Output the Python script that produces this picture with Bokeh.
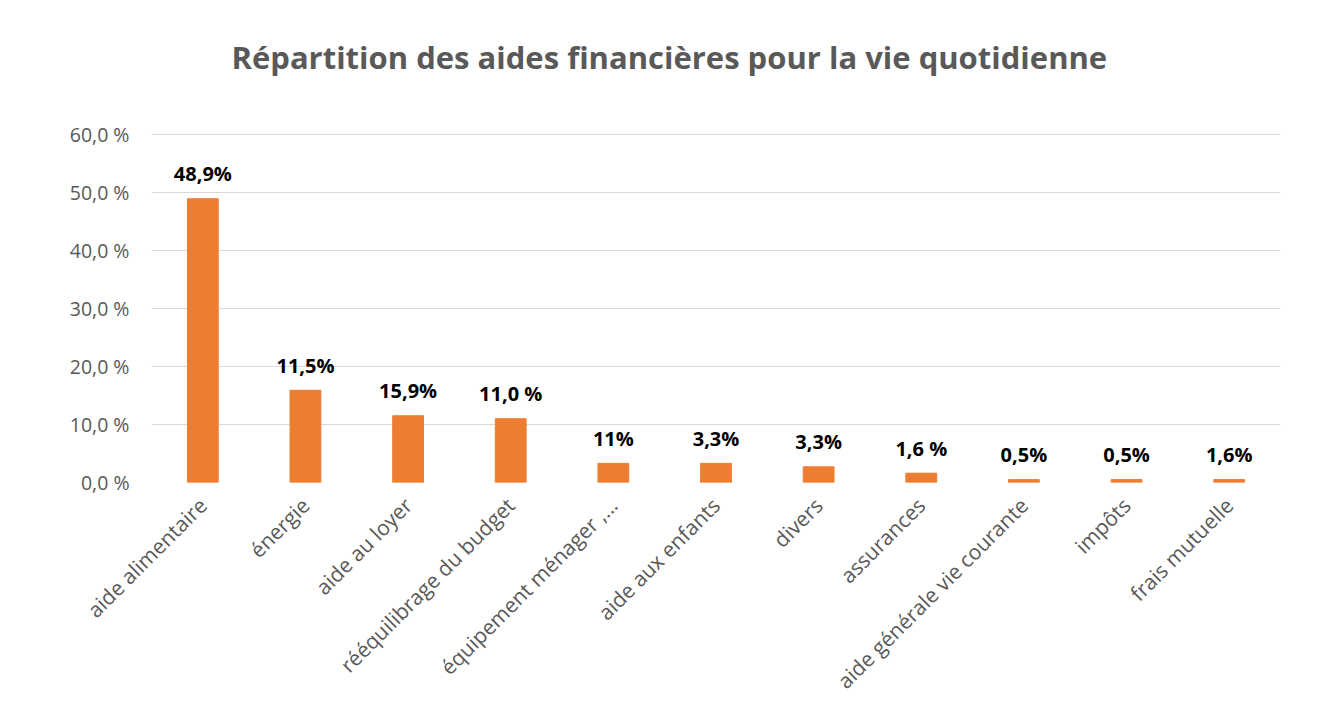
from bokeh.plotting import figure
from bokeh.models import ColumnDataSource, FixedTicker, Range1d, Title
from bokeh.core.properties import value
from bokeh.embed import file_html
from bokeh.resources import INLINE

categories = ["aide alimentaire", "énergie", "aide au loyer", "rééquilibrage du budget",
              "équipement ménager ,…", "aide aux enfants", "divers", "assurances",
              "aide générale vie courante", "impôts", "frais mutuelle"]
values = [48.9, 15.9, 11.5, 11.0, 3.3, 3.3, 2.7, 1.6, 0.5, 0.5, 0.5]
data_labels = ["48,9%", "11,5%", "15,9%", "11,0 %", "11%", "3,3%", "3,3%", "1,6 %", "0,5%", "0,5%", "1,6%"]
y_ticks = [0, 10, 20, 30, 40, 50, 60]
y_tick_labels = ["0,0 %", "10,0 %", "20,0 %", "30,0 %", "40,0 %", "50,0 %", "60,0 %"]

FONT = "Open Sans"
GRAY = "#595959"

src = ColumnDataSource(dict(cat=categories, val=values, lab=data_labels))

p = figure(x_range=categories, y_range=Range1d(0, 60.15),
           frame_width=1129, frame_height=349,
           output_backend="svg", toolbar_location=None,
           min_border_left=151, min_border_right=34, min_border_top=133, min_border_bottom=60)
p.outline_line_color = None
p.background_fill_color = "white"
p.border_fill_color = "white"

p.vbar(x="cat", top="val", width=0.3, source=src, color="#ED7D31", line_color="#ED7D31")

p.text(x="cat", y="val", text="lab", source=src, text_align="center", text_baseline="middle",
       y_offset=-25, text_font=value(FONT), text_font_style="bold", text_font_size="20px",
       text_color="black")

# axes
p.yaxis.ticker = FixedTicker(ticks=y_ticks)
p.yaxis.major_label_overrides = {t: l for t, l in zip(y_ticks, y_tick_labels)}
p.yaxis.axis_line_color = None
p.yaxis.major_tick_line_color = None
p.yaxis.minor_tick_line_color = None
p.yaxis.major_label_standoff = 16
p.yaxis.major_label_text_font = FONT
p.yaxis.major_label_text_font_size = "19.5px"
p.yaxis.major_label_text_color = GRAY

p.xaxis.axis_line_color = None
p.xaxis.major_tick_line_color = None
p.xaxis.minor_tick_line_color = None
p.xaxis.major_label_orientation = 0.785398
p.xaxis.major_label_standoff = 13
p.xaxis.major_label_text_font = FONT
p.xaxis.major_label_text_font_size = "21px"
p.xaxis.major_label_text_color = GRAY

p.xgrid.grid_line_color = None
p.ygrid.grid_line_color = "#d9d9d9"
p.ygrid.grid_line_width = 1

title = Title(text="Répartition des aides financières pour la vie quotidienne\n",
              align="left", offset=80, standoff=28, text_font=FONT,
              text_font_style="bold", text_font_size="31px", text_color=GRAY)
p.add_layout(title, "above")

open("out.html", "w").write(file_html(p, INLINE))
